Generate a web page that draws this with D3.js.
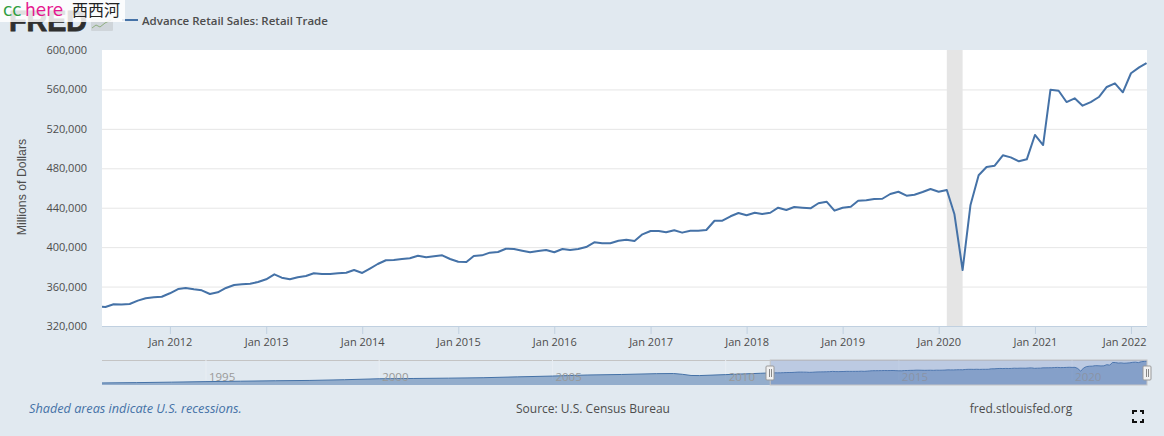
<!DOCTYPE html>
<html>
<head>
<meta charset="utf-8">
<title>Advance Retail Sales: Retail Trade</title>
<script src="https://cdn.jsdelivr.net/npm/d3@7"></script>
<style>
  html, body { margin: 0; padding: 0; background: #e1e9f0; overflow: hidden; }
  svg { display: block; }
  text { font-family: "Open Sans", sans-serif; }
</style>
</head>
<body>
<div id="chart"></div>
<script>
const seriesName = "Advance Retail Sales: Retail Trade";
const yLabel = "Millions of Dollars";

// monthly values, Apr 2011 through Mar 2022 (millions of dollars)
const retailStart = "2011-04-01";
const retailValues = [
  339600, 339300, 342000, 341800, 342300, 345700, 348100, 349200, 349700,
  353200, 357500, 358600, 357200, 356200, 352500, 354200, 358600, 361600, 362300, 362900, 364600,
  367400, 372400, 369000, 367400, 369400, 370700, 373500, 372800, 372800, 373500, 374000, 376800,
  373800, 378500, 382900, 386700, 387000, 388000, 388700, 391300, 389700, 390700, 391700, 388000,
  385200, 384900, 391000, 391700, 394400, 395100, 398400, 398100, 396400, 394800, 396100, 397100,
  394800, 398100, 397100, 398100, 400100, 404900, 403900, 403900, 406500, 407600, 406200, 413000,
  416400, 416400, 415100, 417100, 414700, 416700, 416700, 417400, 426800, 426800, 431300, 434600,
  432300, 434900, 433600, 434900, 440000, 437700, 440700, 440000, 439400, 444500, 446100, 437000,
  440000, 441000, 447100, 447500, 448800, 449100, 453900, 456200, 452200, 453200, 455900, 459000,
  456200, 458000, 433300, 376800, 442800, 472900, 481300, 482600, 493200, 491100, 487100, 489100,
  513800, 503600, 559700, 558700, 547200, 551000, 543500, 547200, 552300, 562500, 566200, 557100,
  576400, 582400, 586800
];

// long history for the navigator strip, before the monthly values above take over
const navDates = ["1992-01-01", "1993-01-01", "1994-01-01", "1995-01-01", "1996-01-01", "1997-01-01",
  "1998-01-01", "1999-01-01", "2000-01-01", "2001-01-01", "2002-01-01", "2003-01-01", "2004-01-01",
  "2005-01-01", "2006-01-01", "2007-01-01", "2008-01-01", "2008-07-01", "2008-10-01", "2009-01-01",
  "2009-04-01", "2010-01-01", "2011-01-01"];
const navValues = [130000, 137000, 147000, 158000, 167000, 176000, 183000, 198000, 218000, 224000,
  231000, 240000, 258000, 275000, 297000, 308000, 325000, 328000, 312000, 287000, 285000, 305000, 333000];

const yTicks = [320000, 360000, 400000, 440000, 480000, 520000, 560000, 600000];
const xTickYears = [2012, 2013, 2014, 2015, 2016, 2017, 2018, 2019, 2020, 2021, 2022];
const navTickYears = [1995, 2000, 2005, 2010, 2015, 2020];
const recession = ["2020-02-01", "2020-04-01"];
const selection = ["2011-04-16", "2022-03-01"];

const width = 1164, height = 436;
const plotLeft = 102, plotRight = 1147, plotTop = 50, plotBottom = 326;
const navTop = 360, navBottom = 385;

const lineColor = "#4572a7";
const textColor = "#4d4d4d";
const tickColor = "#c0d0e0";

const parse = d3.utcParse("%Y-%m-%d");
const retailDates = d3.utcMonth.range(parse(retailStart), d3.utcMonth.offset(parse(retailStart), retailValues.length));
const retail = retailDates.map((d, i) => ({ date: d, value: retailValues[i] }));
const nav = navDates.map((d, i) => ({ date: parse(d), value: navValues[i] })).concat(retail);

const svg = d3.select("#chart").append("svg")
  .attr("width", width)
  .attr("height", height);

const x = d3.scaleUtc().domain(selection.map(parse)).range([plotLeft - 0.5, plotRight - 0.5]);
const y = d3.scaleLinear().domain([320000, 600000]).range([plotBottom, plotTop]);

svg.append("rect")
  .attr("x", plotLeft).attr("y", plotTop)
  .attr("width", plotRight - plotLeft).attr("height", plotBottom - plotTop)
  .attr("fill", "#fff");

svg.append("defs").append("clipPath").attr("id", "plot-clip")
  .append("rect")
  .attr("x", plotLeft).attr("y", plotTop)
  .attr("width", plotRight - plotLeft).attr("height", plotBottom - plotTop);

// gridlines and y labels
const yAxis = svg.append("g")
  .attr("transform", `translate(${plotLeft},0)`)
  .call(d3.axisLeft(y).tickValues(yTicks).tickSize(0).tickPadding(15).tickFormat(d3.format(",")));
yAxis.select(".domain").remove();
yAxis.selectAll("text").attr("font-size", 11).attr("fill", textColor);
yAxis.selectAll("line")
  .attr("x2", plotRight - plotLeft)
  .attr("stroke", d => d === 600000 ? "none" : "#e6e6e6")
  .attr("stroke-width", 1);

// recession band
svg.append("rect")
  .attr("x", x(parse(recession[0])))
  .attr("y", plotTop)
  .attr("width", x(parse(recession[1])) - x(parse(recession[0])))
  .attr("height", plotBottom - plotTop)
  .attr("fill", "#e5e5e5");

// x axis
const xAxis = svg.append("g")
  .attr("transform", `translate(0,${plotBottom})`)
  .call(d3.axisBottom(x)
    .tickValues(xTickYears.map(yr => new Date(Date.UTC(yr, 0, 1))))
    .tickSize(8)
    .tickPadding(4)
    .tickFormat(d3.utcFormat("%b %Y")));
xAxis.select(".domain").attr("stroke", tickColor).attr("d", `M${plotLeft},0.5H${plotRight}`);
xAxis.selectAll("line").attr("stroke", tickColor);
xAxis.selectAll("text").attr("font-size", 11).attr("fill", textColor);
// last label would run past the plot edge, pull it back inside
xAxis.selectAll("text").filter(d => d.getUTCFullYear() === 2022)
  .attr("text-anchor", "end")
  .attr("x", plotRight - 1 - x(new Date(Date.UTC(2022, 0, 1))));

const line = d3.line().x(d => x(d.date)).y(d => y(d.value));

svg.append("path")
  .datum(retail)
  .attr("clip-path", "url(#plot-clip)")
  .attr("fill", "none")
  .attr("stroke", lineColor)
  .attr("stroke-width", 2)
  .attr("stroke-linejoin", "round")
  .attr("d", line);

svg.append("text")
  .attr("transform", "translate(26,187) rotate(-90)")
  .attr("text-anchor", "middle")
  .style("font-family", "'Liberation Sans', sans-serif")
  .attr("font-size", 12.3)
  .attr("fill", textColor)
  .text(yLabel);

// navigator strip
const navX = d3.scaleUtc()
  .domain([nav[0].date, nav[nav.length - 1].date])
  .range([plotLeft, plotRight]);
const navY = d3.scaleLinear().domain([87000, 612000]).range([navBottom, navTop]);

const navG = svg.append("g");
navG.append("line")
  .attr("x1", plotLeft).attr("x2", plotRight)
  .attr("y1", navTop + 0.5).attr("y2", navTop + 0.5)
  .attr("stroke", "#c4c4c4");

navTickYears.forEach(yr => {
  const px = navX(new Date(Date.UTC(yr, 0, 1)));
  navG.append("line")
    .attr("x1", px).attr("x2", px)
    .attr("y1", navTop).attr("y2", navBottom - 5)
    .attr("stroke", "#e9eef3");
});

navG.append("path")
  .datum(nav)
  .attr("fill", lineColor)
  .attr("fill-opacity", 0.5)
  .attr("d", d3.area().x(d => navX(d.date)).y0(navBottom).y1(d => navY(d.value)));

navG.append("path")
  .datum(nav)
  .attr("fill", "none")
  .attr("stroke", lineColor)
  .attr("stroke-width", 1)
  .attr("d", d3.line().x(d => navX(d.date)).y(d => navY(d.value)));

navTickYears.forEach(yr => {
  navG.append("text")
    .attr("x", navX(new Date(Date.UTC(yr, 0, 1))) + 3)
    .attr("y", 381)
    .attr("font-size", 11.5)
    .attr("fill", "#999")
    .text(yr);
});

// selected window on the navigator
const selLeft = navX(parse(selection[0]));
navG.append("rect")
  .attr("x", selLeft).attr("y", navTop)
  .attr("width", plotRight - selLeft).attr("height", navBottom - navTop)
  .attr("fill", "rgba(102,133,194,0.3)")
  .attr("stroke", "#c4c4c4");

[selLeft, plotRight].forEach(px => {
  const h = navG.append("g").attr("transform", `translate(${Math.round(px)},0)`);
  h.append("rect")
    .attr("x", -4).attr("y", 366).attr("width", 8).attr("height", 14)
    .attr("rx", 1)
    .attr("fill", "#f2f2f2").attr("stroke", "#999");
  [-1, 1].forEach(o => h.append("line")
    .attr("x1", o + 0.5).attr("x2", o + 0.5).attr("y1", 369).attr("y2", 377)
    .attr("stroke", "#888"));
});

// legend
svg.append("line")
  .attr("x1", 122).attr("x2", 138)
  .attr("y1", 20).attr("y2", 20)
  .attr("stroke", lineColor).attr("stroke-width", 2);
svg.append("text")
  .attr("x", 142).attr("y", 25)
  .attr("font-size", 11.5)
  .attr("font-weight", 600)
  .attr("fill", "#4d4d4d")
  .text(seriesName);

// FRED logo
svg.append("text")
  .attr("x", 9).attr("y", 31)
  .attr("textLength", 78)
  .attr("lengthAdjust", "spacingAndGlyphs")
  .style("font-family", "'Liberation Sans', sans-serif")
  .attr("font-size", 29)
  .attr("font-weight", 700)
  .attr("fill", "#2f2f2f")
  .attr("stroke", "#2f2f2f")
  .attr("stroke-width", 0.8)
  .text("FRED");
svg.append("rect")
  .attr("x", 91).attr("y", 19).attr("width", 22).attr("height", 12)
  .attr("rx", 1).attr("fill", "#cfd5da");
svg.append("polyline")
  .attr("points", "92,28 96,25 100,27 105,23 111,20")
  .attr("fill", "none").attr("stroke", "#8fae7f").attr("stroke-width", 1);

// watermark box sitting over the logo
svg.append("rect")
  .attr("x", 0).attr("y", 0).attr("width", 125).attr("height", 22)
  .attr("fill", "#fff").attr("fill-opacity", 0.85);
svg.append("text").attr("x", 3).attr("y", 16).attr("font-size", 17)
  .style("font-family", "'DejaVu Sans', sans-serif")
  .attr("fill", "#2f9e3f").text("cc");
svg.append("text").attr("x", 25).attr("y", 16).attr("font-size", 17)
  .style("font-family", "'DejaVu Sans', sans-serif")
  .attr("fill", "#e5178f").text("here");
svg.append("text").attr("x", 72).attr("y", 16).attr("font-size", 16)
  .style("font-family", "'Noto Sans CJK SC', sans-serif")
  .attr("fill", "#222").text("西西河");

// footer
svg.append("text")
  .attr("x", 29).attr("y", 413)
  .attr("font-size", 12.7)
  .attr("font-style", "italic")
  .attr("fill", lineColor)
  .text("Shaded areas indicate U.S. recessions.");
svg.append("text")
  .attr("x", 593).attr("y", 413)
  .attr("text-anchor", "middle")
  .attr("font-size", 12)
  .attr("fill", textColor)
  .text("Source: U.S. Census Bureau");
svg.append("text")
  .attr("x", 1021).attr("y", 413)
  .attr("text-anchor", "middle")
  .attr("font-size", 12)
  .attr("fill", textColor)
  .text("fred.stlouisfed.org");

// fullscreen icon
svg.append("path")
  .attr("d", "M1133,414V411H1137M1140,411H1143V414M1143,419V422H1140M1137,422H1133V419")
  .attr("fill", "none")
  .attr("stroke", "#111")
  .attr("stroke-width", 2);
</script>
</body>
</html>
